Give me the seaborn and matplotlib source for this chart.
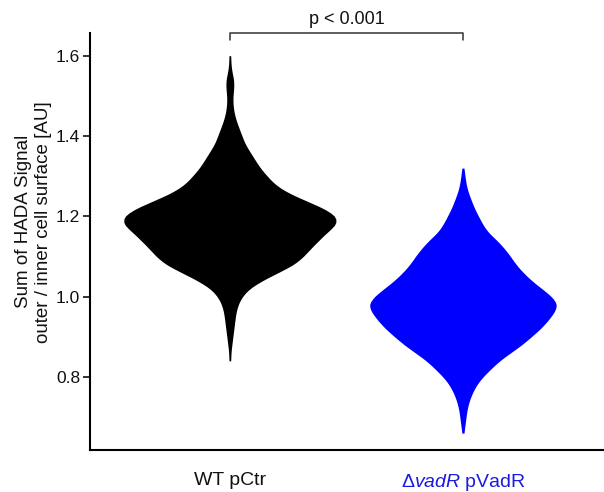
# HADA signal ratio violin plot

import numpy as np
import pandas as pd
import matplotlib
matplotlib.use("Agg")
import matplotlib.pyplot as plt
import seaborn as sns

# groups
groups = ["WT pCtr", r"$\Delta\mathit{vadR}$ pVadR"]
colors = ["#000000", "#0000ff"]

# binned signal values and cell counts per bin
wt_values = [0.84, 0.86, 0.88, 0.90, 0.92, 0.94, 0.96, 0.98, 1.00, 1.02,
             1.04, 1.06, 1.08, 1.10, 1.12, 1.14, 1.16, 1.18, 1.20, 1.22,
             1.24, 1.26, 1.28, 1.30, 1.32, 1.34, 1.36, 1.38, 1.40, 1.42,
             1.44, 1.46, 1.48, 1.50, 1.52, 1.54, 1.56, 1.58, 1.60]
wt_counts = [1, 1, 2, 3, 4, 5, 6, 8, 12, 19,
             32, 48, 64, 73, 80, 88, 96, 106, 106, 93,
             74, 56, 44, 37, 30, 25, 20, 15, 12, 9,
             6, 4, 3, 3, 4, 4, 2, 1, 1]

vadr_values = [0.66, 0.68, 0.70, 0.72, 0.74, 0.76, 0.78, 0.80, 0.82, 0.84,
               0.86, 0.88, 0.90, 0.92, 0.94, 0.96, 0.98, 1.00, 1.02, 1.04,
               1.06, 1.08, 1.10, 1.12, 1.14, 1.16, 1.18, 1.20, 1.22, 1.24,
               1.26, 1.28, 1.30, 1.32]
vadr_counts = [1, 2, 3, 4, 6, 9, 13, 19, 27, 35,
               46, 57, 66, 75, 82, 88, 92, 86, 76, 66,
               58, 51, 46, 40, 33, 24, 19, 15, 11, 8,
               5, 3, 2, 1]

y_ticks = [0.8, 1.0, 1.2, 1.4, 1.6]
p_text = "p < 0.001"

wt = pd.DataFrame({"strain": groups[0],
                   "signal": np.repeat(wt_values, wt_counts)})
vadr = pd.DataFrame({"strain": groups[1],
                     "signal": np.repeat(vadr_values, vadr_counts)})

sns.set_style("ticks")
plt.rcParams["font.family"] = ["Liberation Sans", "DejaVu Sans"]
plt.rcParams["mathtext.fontset"] = "custom"
plt.rcParams["mathtext.rm"] = "Liberation Sans"
plt.rcParams["mathtext.it"] = "Liberation Sans:italic"
plt.rcParams["text.color"] = "#111111"
plt.rcParams["axes.labelcolor"] = "#111111"
plt.rcParams["xtick.color"] = "#111111"
plt.rcParams["ytick.color"] = "#111111"

fig = plt.figure(figsize=(6.04, 4.92), dpi=100)
ax = fig.add_axes([0.149, 0.0854, 0.849, 0.848])

# one call per strain so each violin keeps its own width
for d, c, w in [(wt, colors[0], 0.91), (vadr, colors[1], 0.80)]:
    sns.violinplot(data=d, x="strain", y="signal", order=groups, color=c,
                   saturation=1, inner=None, cut=0, bw_method=0.12,
                   width=w, linewidth=0, ax=ax)

ax.set_xlim(-0.6, 1.6)
ax.set_ylim(0.618, 1.657)
ax.set_yticks(y_ticks)
ax.set_yticklabels([f"{t:.1f}" for t in y_ticks], fontsize=12.5)
ax.tick_params(axis="y", length=5, width=1.2, pad=2)
ax.tick_params(axis="x", length=0, pad=16, labelsize=14)
ax.get_xticklabels()[1].set_color("#1a1ae0")

sns.despine(ax=ax)
for side in ["left", "bottom"]:
    ax.spines[side].set_linewidth(1.5)
    ax.spines[side].set_color("black")

ax.set_xlabel("")
ax.set_ylabel("Sum of HADA Signal\nouter / inner cell surface [AU]",
              fontsize=13.5, linespacing=1.25)
ax.yaxis.set_label_coords(-0.074, 0.547)

# significance bracket
ax.plot([0, 0, 1, 1], [1.64, 1.657, 1.657, 1.64], color="#333333",
        linewidth=1.1, clip_on=False)
ax.text(0.5, 1.668, p_text, ha="center", va="bottom", fontsize=13)

fig.savefig("out.png", dpi=100)
